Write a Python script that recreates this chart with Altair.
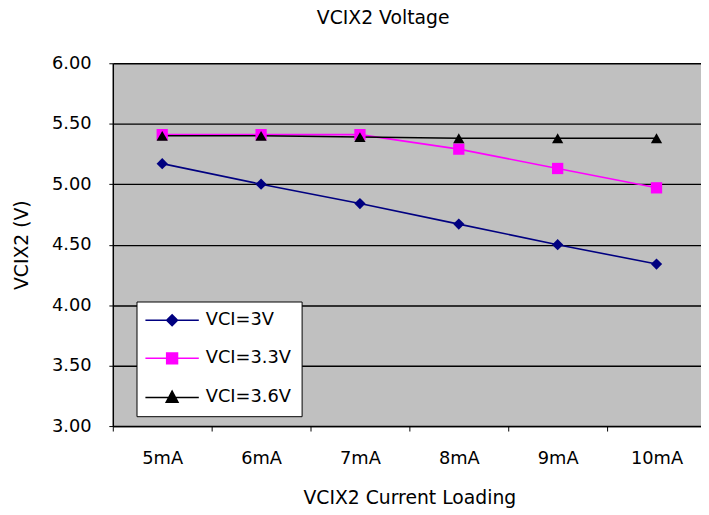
import altair as alt
import pandas as pd

currents = ["5mA", "6mA", "7mA", "8mA", "9mA", "10mA"]
series_names = ["VCI=3V", "VCI=3.3V", "VCI=3.6V"]
vci_3v = [5.17, 5.00, 4.84, 4.67, 4.50, 4.34]
vci_33v = [5.41, 5.41, 5.41, 5.29, 5.13, 4.97]
vci_36v = [5.40, 5.40, 5.39, 5.38, 5.38, 5.38]
y_ticks = [3.0, 3.5, 4.0, 4.5, 5.0, 5.5, 6.0]

rows = []
for name, vals in zip(series_names, [vci_3v, vci_33v, vci_36v]):
    for c, v in zip(currents, vals):
        rows.append({"current": c, "series": name, "voltage": v})
df = pd.DataFrame(rows)

colors = ["#000080", "#FF00FF", "#000000"]
shapes = ["diamond", "square", "triangle-up"]
legend_paths = [
    "M-5.4,0H5.4M0,-1.1L1.1,0L0,1.1L-1.1,0Z",
    "M-5.4,0H5.4M-1.1,-1.1H1.1V1.1H-1.1Z",
    "M-5.4,0H5.4M0,-1.3L1.2,1L-1.2,1Z",
]

FONT = "DejaVu Sans"

legend = alt.Legend(
    orient="none", legendX=24, legendY=241,
    labelFont=FONT, labelFontSize=18, labelColor="black",
    symbolOffset=17, labelOffset=25, symbolSize=100, symbolStrokeWidth=1.5, symbolOpacity=1,
)

x_enc = alt.X(
    "current:N", sort=currents, bandPosition=0.5,
    scale=alt.Scale(type="band", domain=currents, range=[0, 600], paddingInner=0, paddingOuter=0),
    axis=alt.Axis(title="VCIX2 Current Loading", tickBand="extent", grid=False, labelAngle=0,
                  tickSize=5, tickColor="black", domainColor="black", domainWidth=1.5,
                  labelFont=FONT, labelFontSize=18, labelColor="black", labelPadding=19,
                  titleFont=FONT, titleFontSize=19, titleFontWeight="normal", titleColor="black",
                  titlePadding=21),
)
y_enc = alt.Y(
    "voltage:Q",
    scale=alt.Scale(domain=[3, 6], nice=False, zero=False),
    axis=alt.Axis(title="VCIX2 (V)", values=y_ticks, format=".2f", grid=True,
                  gridColor="black", gridWidth=1.4, gridOpacity=1,
                  tickSize=4, tickColor="black", domainColor="black", domainWidth=1.5,
                  labelFont=FONT, labelFontSize=18, labelColor="black", labelPadding=18,
                  titleFont=FONT, titleFontSize=19, titleFontWeight="normal", titleColor="black",
                  titlePadding=20),
)

col_scale = alt.Scale(domain=series_names, range=colors)

base = alt.Chart(df)
lines = base.mark_line(strokeWidth=1.6).encode(
    x=x_enc, y=y_enc,
    color=alt.Color("series:N", sort=series_names, scale=col_scale, legend=None),
)
points = base.mark_point(filled=True, size=130, opacity=1).encode(
    x=x_enc, y=y_enc,
    color=alt.Color("series:N", sort=series_names, scale=col_scale, legend=None),
    shape=alt.Shape("series:N", sort=series_names,
                    scale=alt.Scale(domain=series_names, range=shapes), legend=None),
)
legend_layer = base.transform_filter("false").mark_point(opacity=1).encode(
    fill=alt.Fill("series:N", sort=series_names, title=None, scale=col_scale, legend=legend),
    stroke=alt.Stroke("series:N", sort=series_names, title=None, scale=col_scale, legend=legend),
    shape=alt.Shape("series:N", sort=series_names, title=None,
                    scale=alt.Scale(domain=series_names, range=legend_paths), legend=legend),
)

chart = alt.layer(lines, points, legend_layer).resolve_scale(
    color="independent", shape="independent", fill="independent", stroke="independent"
).properties(
    width=595, height=367,
    padding={"left": 106, "top": 53, "right": 0, "bottom": 84},
    autosize="none",
    background="white",
    view=alt.ViewBackground(fill="#C0C0C0", stroke="transparent"),
    title=alt.TitleParams("VCIX2 Voltage", font=FONT, fontSize=19, fontWeight="normal",
                          color="black", anchor="middle", dx=-24, offset=27),
).configure_view(
    fill="#C0C0C0", stroke="transparent"
).configure_legend(
    fillColor="white", strokeColor="black", strokeWidth=1, cornerRadius=0, padding=10,
    rowPadding=20.5,
)

chart.save("out.html", embed_options={"renderer": "svg", "actions": False})
